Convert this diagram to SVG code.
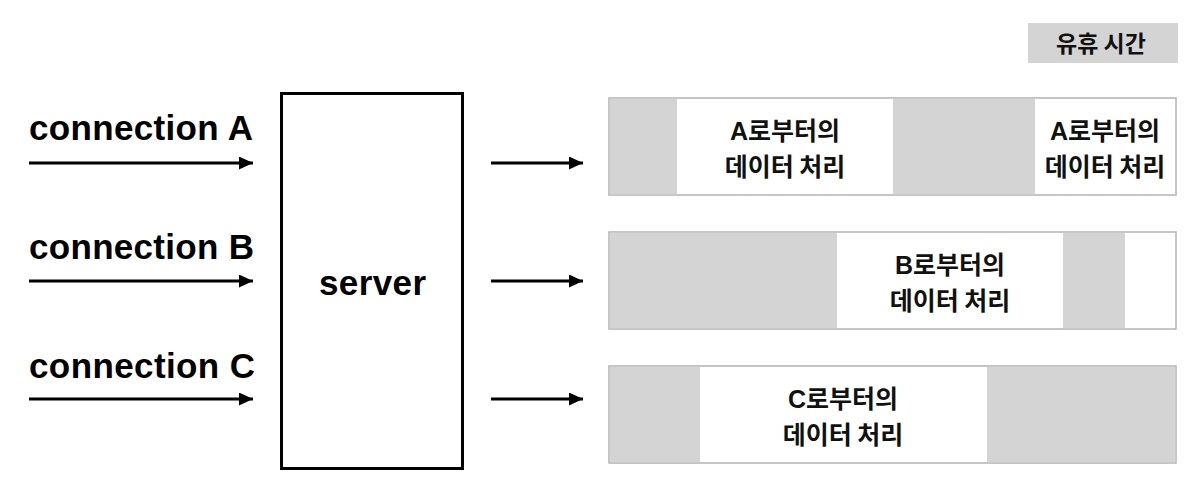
<svg xmlns="http://www.w3.org/2000/svg" width="1204" height="486" viewBox="0 0 1204 486">
<style>
.lbl{font-family:"Liberation Sans",Arial,sans-serif;font-weight:bold;font-size:35px;fill:#000}
.kr{font-family:"Liberation Sans","Noto Sans CJK KR",sans-serif;font-weight:bold;font-size:25px;fill:#111;text-anchor:middle}
.kr2{font-family:"Noto Sans CJK KR",sans-serif;font-weight:bold;font-size:25px;fill:#111;text-anchor:middle}
.frame{fill:#fff;stroke:#b3b3b3;stroke-width:1.5}
.idle{fill:#d4d4d4}
.arr{stroke:#000;stroke-width:3;fill:none;marker-end:url(#ah)}
</style>
<defs>
<marker id="ah" markerUnits="userSpaceOnUse" markerWidth="15" markerHeight="14" refX="14" refY="6.5" orient="auto">
<path d="M0,0 L14,6.5 L0,13 z" fill="#000"/>
</marker>
</defs>
<rect width="1204" height="486" fill="#fff"/>

<g id="legend">
<rect x="1028" y="23" width="150" height="40" class="idle"/>
<text x="1101" y="52" class="kr2" style="font-size:23px">유휴 시간</text>
</g>

<g id="conn-a"><text x="29" y="140" class="lbl" textLength="224">connection A</text></g>
<g id="conn-b"><text x="29" y="259" class="lbl" textLength="225">connection B</text></g>
<g id="conn-c"><text x="29" y="378" class="lbl" textLength="226">connection C</text></g>

<g id="server">
<rect x="281.5" y="93.5" width="181" height="375" fill="#fff" stroke="#000" stroke-width="3"/>
<text x="372.5" y="295" class="lbl" text-anchor="middle" textLength="107">server</text>
</g>

<g id="connectors">
<line x1="29" y1="163" x2="253" y2="163" class="arr"/>
<line x1="29" y1="281" x2="253" y2="281" class="arr"/>
<line x1="29" y1="399" x2="253" y2="399" class="arr"/>
<line x1="491" y1="163" x2="583" y2="163" class="arr"/>
<line x1="491" y1="281" x2="583" y2="281" class="arr"/>
<line x1="491" y1="399" x2="583" y2="399" class="arr"/>
</g>

<g id="timeline-a">
<rect x="609" y="98" width="567" height="97" class="frame"/>
<rect x="609.75" y="98.75" width="67.25" height="95.5" class="idle"/>
<rect x="893" y="98.75" width="142" height="95.5" class="idle"/>
<text x="785" y="140" class="kr">A로부터의</text>
<text x="785" y="176" class="kr2">데이터 처리</text>
<text x="1105" y="140" class="kr">A로부터의</text>
<text x="1105" y="176" class="kr2">데이터 처리</text>
</g>

<g id="timeline-b">
<rect x="609" y="232" width="567" height="97" class="frame"/>
<rect x="609.75" y="232.75" width="227.25" height="95.5" class="idle"/>
<rect x="1063" y="232.75" width="62" height="95.5" class="idle"/>
<text x="950" y="274" class="kr">B로부터의</text>
<text x="950" y="310" class="kr2">데이터 처리</text>
</g>

<g id="timeline-c">
<rect x="609" y="366" width="567" height="97" class="frame"/>
<rect x="609.75" y="366.75" width="90.25" height="95.5" class="idle"/>
<rect x="987" y="366.75" width="188.25" height="95.5" class="idle"/>
<text x="843" y="408" class="kr">C로부터의</text>
<text x="843" y="444" class="kr2">데이터 처리</text>
</g>
</svg>
